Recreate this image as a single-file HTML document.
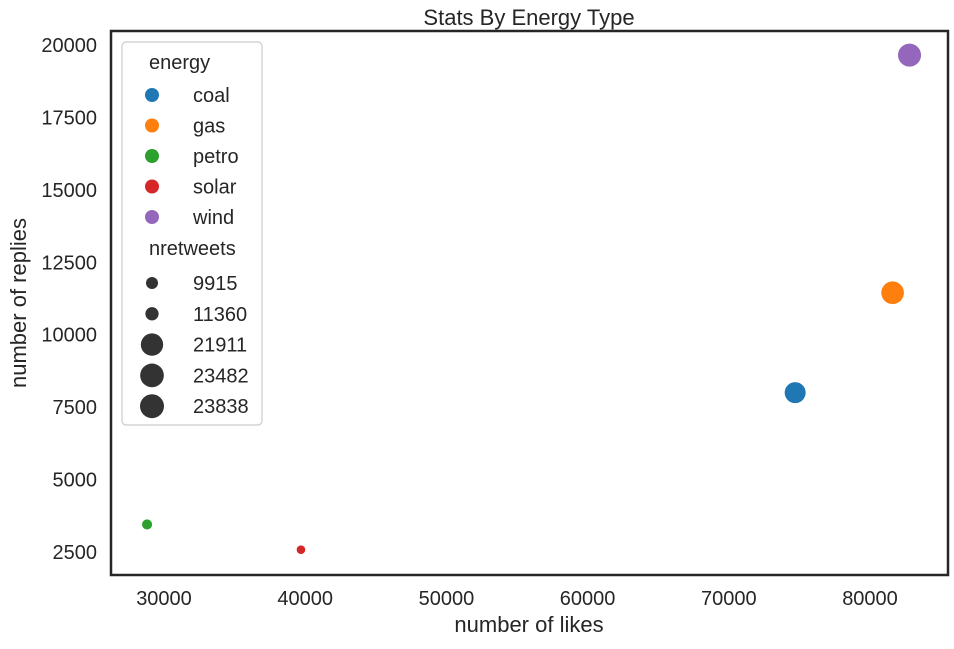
<!DOCTYPE html>
<html><head><meta charset="utf-8"><style>
body{margin:0;background:#fff;font-family:"Liberation Sans",sans-serif;}
svg text{font-family:"Liberation Sans",sans-serif;fill:#262626;}
</style></head><body>
<svg id="c" width="954" height="644"></svg>
<script>
const energies=["coal","gas","petro","solar","wind"];
const likes=[74700,81600,28800,39700,82800];
const replies=[8000,11450,3450,2580,19650];
const retweets=[21911,23482,11360,9915,23838];
const colors=["#1f77b4","#ff7f0e","#2ca02c","#d62728","#9467bd"];
const xTicks=[30000,40000,50000,60000,70000,80000];
const yTicks=[2500,5000,7500,10000,12500,15000,17500,20000];
const legendSizes=[9915,11360,21911,23482,23838];
const L=111,R=948,T=31,B=575;
const xs=v=>164+(v-30000)*141.2/10000;
const ys=v=>552-(v-2500)*72.43/2500;
const rs=v=>4.8+(v-9915)/(23838-9915)*7.2;
const svg=document.getElementById('c');
const NS='http://www.w3.org/2000/svg';
function mk(tag,attrs,txt){const e=document.createElementNS(NS,tag);for(const k in attrs)e.setAttribute(k,attrs[k]);if(txt!==undefined)e.textContent=txt;svg.appendChild(e);return e;}
let e;
e=mk('text',{x:529,y:25,'text-anchor':'middle','font-size':22},'Stats By Energy Type');


xTicks.forEach(t=>{
 e=mk('text',{x:xs(t),y:B+30,'text-anchor':'middle','font-size':20},t);
 
 
});
yTicks.forEach(t=>{
 e=mk('text',{x:L-14,y:ys(t)+7,'text-anchor':'end','font-size':20},t);
 
 
});
e=mk('text',{x:529,y:632,'text-anchor':'middle','font-size':22},'number of likes');


e=mk('text',{x:0,y:0,'text-anchor':'middle','font-size':22,transform:'translate(26,303) rotate(-90)'},'number of replies');


energies.forEach((n,i)=>{
 e=mk('circle',{cx:xs(likes[i]),cy:ys(replies[i]),r:rs(retweets[i]),fill:colors[i],stroke:'#fff','stroke-width':1});
 
 
});
e=mk('rect',{x:L,y:T,width:R-L,height:B-T,fill:'none',stroke:'#262626','stroke-width':2.5});


e=mk('rect',{x:122,y:42,width:140,height:383,rx:4,fill:'#fff','fill-opacity':0.8,stroke:'#ccc','stroke-width':1.2});


e=mk('text',{x:149,y:69,'font-size':20},'energy');


energies.forEach((n,i)=>{
 const y=95+i*30.5;
 e=mk('circle',{cx:152,cy:y,r:7,fill:colors[i]});
 
 
 e=mk('text',{x:193,y:y+7,'font-size':20},n);
 
 
});
e=mk('text',{x:149,y:255,'font-size':20},'nretweets');


legendSizes.forEach((s,i)=>{
 const y=283+i*30.8;
 e=mk('circle',{cx:152,cy:y,r:6+(s-9915)/(23838-9915)*6,fill:'#333'});
 
 
 e=mk('text',{x:193,y:y+7,'font-size':20},s);
 
 
});
</script>
</body></html>
